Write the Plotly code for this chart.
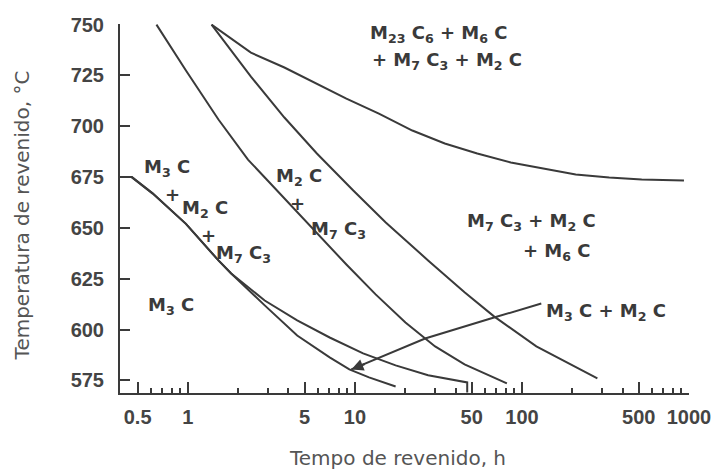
import numpy as np
import plotly.graph_objects as go

# ---- data (tempering time in h, temperature in °C) ----
m3c_t = [0.392, 0.461, 0.614, 0.973, 1.523, 1.816, 2.882, 4.51, 7.056, 9.256, 12.14, 17.52]
m3c_T = [675, 675, 667, 652, 634, 627.6, 611.9, 597.1, 586.3, 580.4, 576.5, 572.0]

mix_t = [0.392, 0.461, 0.614, 0.973, 1.523, 1.816, 2.882, 4.51, 7.056, 11.19, 17.52, 27.41, 47, 47]
mix_T = [675, 675, 667, 652, 634, 627.6, 614.3, 604.5, 596.1, 588.3, 582.4, 577.5, 574.0, 569]

m2c_t = [0.648, 0.973, 1.523, 2.288, 3.0, 3.93, 5.916, 8.887, 13.30, 20.06, 30.2, 45.3, 81.2]
m2c_T = [750, 727.4, 703.3, 683.6, 673.3, 663.0, 647.3, 632.0, 617.3, 603.5, 591.7, 582.9, 573.5]

m7c3_t = [1.385, 2.383, 3.78, 5.916, 9.772, 15.29, 27.41, 45.3, 68.0, 121.9, 282.8]
m7c3_T = [750, 724.4, 704.3, 686.6, 668.4, 652.7, 634.0, 618.3, 606.5, 591.7, 576.0]

top_t = [1.385, 2.383, 3.78, 5.916, 8.887, 13.91, 22.06, 34.51, 54.0, 85.7, 134.1, 209.8, 332.9, 520.8, 933]
top_T = [750, 736.2, 728.9, 721.0, 713.6, 706.2, 697.9, 691.5, 686.6, 682.2, 679.2, 676.3, 674.8, 673.8, 673.3]

arrow_t = [9.51, 26.31, 68.0, 130.5]
arrow_T = [580.4, 595.6, 605.9, 612.8]

x_tickvals = [0.5, 1, 5, 10, 50, 100, 500, 1000]
x_ticktext = ["0.5", "1", "5", "10", "50", "100", "500", "1000"]
x_minor = [0.6, 0.7, 0.8, 0.9, 2, 3, 4, 6, 7, 8, 9, 20, 30, 40, 60, 70, 80, 90,
           200, 300, 400, 600, 700, 800, 900]
y_tickvals = [575, 600, 625, 650, 675, 700, 725, 750]

# phase labels: (text, time, temperature, anchor)
labels = [
    ("M<sub>23</sub> C<sub>6</sub> + M<sub>6</sub> C", 12.1, 745.6, "left"),
    ("+ M<sub>7</sub> C<sub>3</sub> + M<sub>2</sub> C", 12.4, 732.3, "left"),
    ("M<sub>3</sub> C", 0.536, 679.4, "left"),
    ("+", 0.805, 666.6, "center"),
    ("M<sub>2</sub> C", 0.91, 659.4, "left"),
    ("+", 1.33, 646.4, "center"),
    ("M<sub>7</sub> C<sub>3</sub>", 1.46, 637.4, "left"),
    ("M<sub>2</sub> C", 3.30, 675.0, "left"),
    ("+", 4.51, 661.8, "center"),
    ("M<sub>7</sub> C<sub>3</sub>", 5.38, 649.2, "left"),
    ("M<sub>3</sub> C", 0.566, 611.4, "left"),
    ("M<sub>7</sub> C<sub>3</sub> + M<sub>2</sub> C", 46.5, 652.7, "left"),
    ("+ M<sub>6</sub> C", 99.5, 638.4, "left"),
    ("M<sub>3</sub> C + M<sub>2</sub> C", 137.7, 608.4, "left"),
]

LINE = "#3a3a3a"
TXT = "#3a3a3a"
LABEL_FONT = dict(family="DejaVu Sans", size=18, color=TXT, weight="bold")
TITLE_FONT = dict(family="DejaVu Sans", size=20, color="#555555")
TICK_FONT = dict(family="Liberation Sans, Arial", size=20, color="#444444", weight="bold")

fig = go.Figure()
for t, T in [(m3c_t, m3c_T), (mix_t, mix_T), (m2c_t, m2c_T), (m7c3_t, m7c3_T),
             (top_t, top_T), (arrow_t, arrow_T)]:
    fig.add_trace(go.Scatter(x=t, y=T, mode="lines", line=dict(color=LINE, width=2),
                             showlegend=False, hoverinfo="skip"))

for text, t, T, anchor in labels:
    fig.add_annotation(x=np.log10(t), y=T, text=text, showarrow=False, xanchor=anchor, yanchor="middle",
                       font=LABEL_FONT, borderpad=0)

# arrow head at the end of the M3C + M2C leader
fig.add_annotation(x=np.log10(arrow_t[0]), y=arrow_T[0], text="", showarrow=True, ax=15, ay=-6,
                   arrowhead=2, arrowsize=1.2, arrowwidth=2, arrowcolor=LINE, standoff=0)

# axis titles
fig.add_annotation(xref="paper", yref="paper", x=0.488, y=-0.176, text="Tempo de revenido, h",
                   showarrow=False, xanchor="center", yanchor="middle", font=TITLE_FONT)
fig.add_annotation(xref="paper", yref="paper", x=-0.173, y=0.48, text="Temperatura de revenido, °C",
                   showarrow=False, xanchor="center", yanchor="middle", textangle=-90, font=TITLE_FONT)

fig.update_layout(
    width=723, height=469,
    margin=dict(l=120, r=25, t=24, b=76),
    paper_bgcolor="white", plot_bgcolor="white",
    showlegend=False,
)
fig.update_xaxes(
    type="log", range=[np.log10(0.392), 3.0],
    tickmode="array", tickvals=x_tickvals, ticktext=x_ticktext,
    ticks="inside", ticklen=11, tickwidth=2, tickcolor=LINE,
    showline=True, linewidth=2, linecolor=LINE, mirror=False,
    showgrid=False, zeroline=False, ticklabelstandoff=5,
    tickfont=TICK_FONT,
    minor=dict(tickmode="array", tickvals=x_minor, ticks="inside", ticklen=5, tickwidth=1.5,
               tickcolor=LINE, showgrid=False),
)
fig.update_yaxes(
    range=[568.8, 750.3],
    tickmode="array", tickvals=y_tickvals,
    ticks="inside", ticklen=10, tickwidth=2, tickcolor=LINE,
    showline=True, linewidth=2, linecolor=LINE, mirror=False,
    showgrid=False, zeroline=False, ticklabelstandoff=10,
    tickfont=TICK_FONT,
)

fig.write_html("out.html")
